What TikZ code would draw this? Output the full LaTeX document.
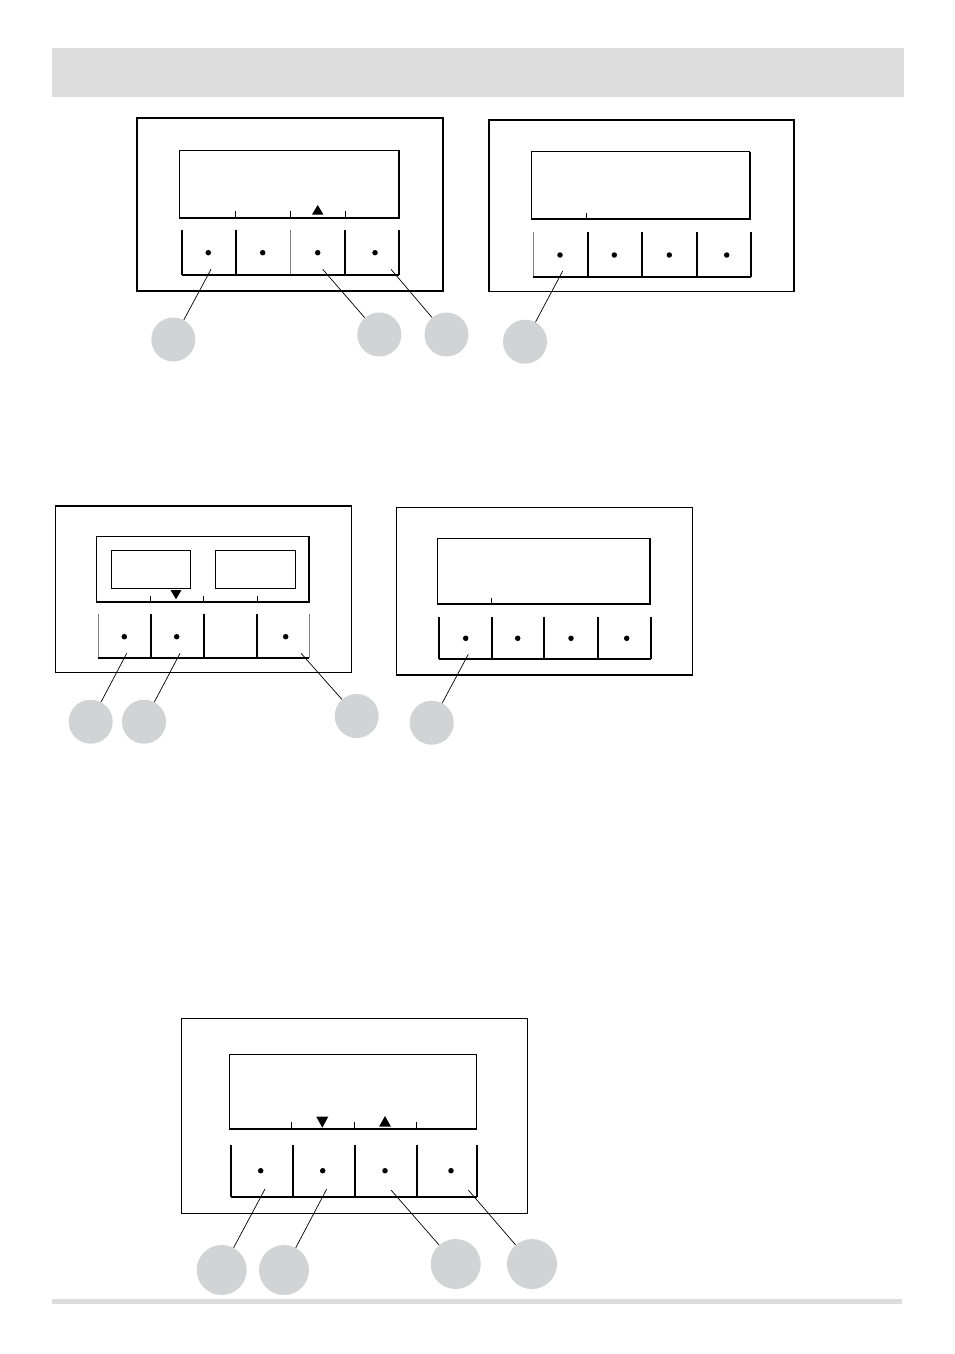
\documentclass[tikz,border=0pt]{standalone}
\usepackage{tikz}

\definecolor{barfill}{RGB}{220,220,220}
\definecolor{calloutfill}{RGB}{210,211,213}

\begin{document}
\begin{tikzpicture}[
  x=1pt, y=-1pt,
  panel/.style={draw, line width=1.3pt},
  display/.style={draw, line width=0.9pt},
  screenedge/.style={line width=2pt},
  tick/.style={line width=0.9pt},
  keyline/.style={line width=2pt},
  keythin/.style={line width=0.5pt, gray},
  dot/.style={circle, fill, inner sep=0pt, minimum size=5.5pt},
  callout/.style={circle, fill=calloutfill, inner sep=0pt, minimum size=44pt},
  bigcallout/.style={callout, minimum size=50pt},
  leader/.style={line width=0.7pt},
]
  \useasboundingbox (0,0) rectangle (954,1354);

  % header bar and footer rule
  \fill[barfill] (52,48) rectangle (904,97);
  \fill[barfill] (52,1299) rectangle (902,1304);

  % panel A
  \draw[panel] (137,118) rectangle (443,291);
  \draw[display] (179,150) rectangle (399,217.5);
  \draw[screenedge] (179,217.5) -- (399,217.5) -- (399,150);
  \foreach \x in {235.5,290.7,345.5} {
    \draw[tick] (\x,211) -- (\x,217.5);
  }
  \fill (312,214.5) -- (317.7,205) -- (323.4,214.5) -- cycle;
  \foreach \x in {181.5,235.7,345.3,399} {
    \draw[keyline] (\x,230) -- (\x,275);
  }
  \draw[keythin] (290.7,230) -- (290.7,275);
  \draw[keyline] (181.5,275) -- (399,275);
  \foreach \x [count=\i] in {208.3,262.7,317.7,375} {
    \node[dot] (ka\i) at (\x,252.7) {};
  }
  \node[callout] (ca1) at (173.3,339.5) {};
  \node[callout] (ca3) at (379.3,334.5) {};
  \node[callout] (ca4) at (446.5,334.5) {};
  \coordinate (la1) at (211,269.3);
  \coordinate (la3) at (322.7,269.3);
  \coordinate (la4) at (391,269.3);
  \draw[leader] (la1) -- (ca1);
  \draw[leader] (la3) -- (ca3);
  \draw[leader] (la4) -- (ca4);

  % panel B
  \draw[panel] (489,120) rectangle (794,291.7);
  \draw[display] (531.7,151.7) rectangle (749.5,219.3);
  \draw[screenedge] (531.7,219.3) -- (749.5,219.3) -- (749.5,151.7);
  \draw[tick] (586.3,213) -- (586.3,219.3);
  \foreach \x in {587.7,642,696.7,750.7} {
    \draw[keyline] (\x,232.3) -- (\x,276.7);
  }
  \draw[keythin] (533.3,232.3) -- (533.3,276.7);
  \draw[keyline] (533.3,276.7) -- (750.7,276.7);
  \foreach \x [count=\i] in {560,614.3,669.3,726.7} {
    \node[dot] (kb\i) at (\x,255) {};
  }
  \node[callout] (cb1) at (525,341.7) {};
  \coordinate (lb1) at (562.7,271);
  \draw[leader] (lb1) -- (cb1);

  % panel C
  \draw[panel] (55.7,506) rectangle (351.7,672.7);
  \draw[display] (96.7,536.7) rectangle (309.3,602.3);
  \draw[screenedge] (96.7,602.3) -- (309.3,602.3) -- (309.3,536.7);
  \draw[display] (111,550) rectangle (190.7,588.3);
  \draw[display] (215,550) rectangle (295.7,588.3);
  \foreach \x in {150.7,203.3,257.3} {
    \draw[tick] (\x,595.7) -- (\x,602.3);
  }
  \fill (170.5,590) -- (181.5,590) -- (176,599.3) -- cycle;
  \foreach \x in {150.7,204,257.3} {
    \draw[keyline] (\x,614) -- (\x,658.3);
  }
  \draw[keythin] (98.3,614) -- (98.3,658.3);
  \draw[keythin] (309.3,614) -- (309.3,658.3);
  \draw[keyline] (98.3,658.3) -- (309.3,658.3);
  \node[dot] (kc1) at (124.3,636.7) {};
  \node[dot] (kc2) at (176.7,636.7) {};
  \node[dot] (kc4) at (285.7,636.7) {};
  \node[callout] (cc1) at (90.7,721.7) {};
  \node[callout] (cc2) at (144,721.7) {};
  \node[callout] (cc4) at (356.7,716) {};
  \coordinate (lc1) at (126.7,653.3);
  \coordinate (lc2) at (180,653.3);
  \coordinate (lc4) at (301,653.3);
  \draw[leader] (lc1) -- (cc1);
  \draw[leader] (lc2) -- (cc2);
  \draw[leader] (lc4) -- (cc4);

  % panel D
  \draw[panel] (396.7,507.7) rectangle (692.3,675);
  \draw[display] (437.7,538.3) rectangle (650,604);
  \draw[screenedge] (437.7,604) -- (650,604) -- (650,538.3);
  \draw[tick] (491.3,598) -- (491.3,604);
  \foreach \x in {439.3,491.7,544.3,597.7,650.7} {
    \draw[keyline] (\x,616.7) -- (\x,659.3);
  }
  \draw[keyline] (439.3,659.3) -- (650.7,659.3);
  \foreach \x [count=\i] in {465.7,517.7,571,626.7} {
    \node[dot] (kd\i) at (\x,638.3) {};
  }
  \node[callout] (cd1) at (431.7,722.7) {};
  \coordinate (ld1) at (468.3,654.3);
  \draw[leader] (ld1) -- (cd1);

  % panel E
  \draw[panel] (181.7,1018.3) rectangle (527.7,1213.3);
  \draw[display] (229,1054.3) rectangle (476.7,1129);
  \draw[screenedge] (229,1129) -- (476.7,1129);
  \foreach \x in {291,354.3,416.7} {
    \draw[tick] (\x,1122) -- (\x,1129);
  }
  \fill (316.3,1116.7) -- (328.3,1116.7) -- (322.3,1127.7) -- cycle;
  \fill (379,1126.7) -- (385,1116) -- (391,1126.7) -- cycle;
  \foreach \x in {231,292.7,355,416.7,477.3} {
    \draw[keyline] (\x,1145) -- (\x,1196.7);
  }
  \draw[keyline] (231,1196.7) -- (477.3,1196.7);
  \foreach \x [count=\i] in {260.7,322.7,385,451} {
    \node[dot] (ke\i) at (\x,1170.7) {};
  }
  \node[bigcallout] (ce1) at (221.7,1270) {};
  \node[bigcallout] (ce2) at (284,1270) {};
  \node[bigcallout] (ce3) at (455.7,1264) {};
  \node[bigcallout] (ce4) at (532,1264) {};
  \coordinate (le1) at (265,1189);
  \coordinate (le2) at (326.7,1189);
  \coordinate (le3) at (391,1190);
  \coordinate (le4) at (468.3,1190);
  \draw[leader] (le1) -- (ce1);
  \draw[leader] (le2) -- (ce2);
  \draw[leader] (le3) -- (ce3);
  \draw[leader] (le4) -- (ce4);
\end{tikzpicture}
\end{document}
